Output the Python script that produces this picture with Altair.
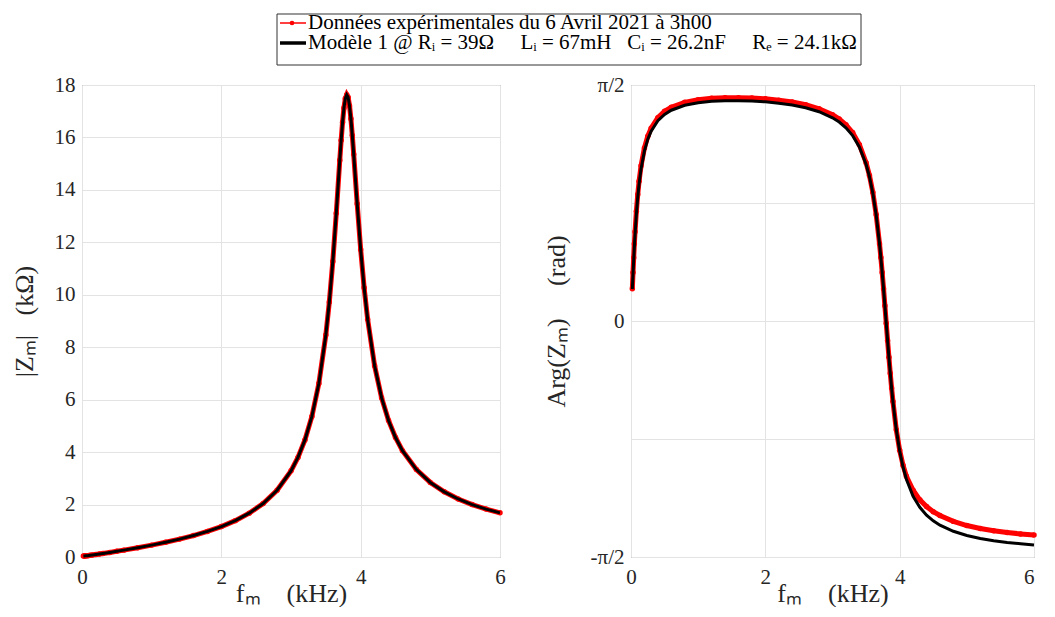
import altair as alt
import pandas as pd

# ---------------- data ----------------
F = [0.02, 0.03, 0.04, 0.05, 0.06, 0.08, 0.10, 0.12, 0.15, 0.20, 0.25, 0.30, 0.40, 0.50,
     0.60, 0.80, 1.00, 1.20, 1.40, 1.60, 1.80, 2.00, 2.20, 2.40, 2.60, 2.80, 3.00, 3.10,
     3.20, 3.30, 3.40, 3.50, 3.55, 3.60, 3.65, 3.70, 3.72, 3.74, 3.76, 3.78, 3.80, 3.82,
     3.84, 3.86, 3.88, 3.90, 3.95, 4.00, 4.05, 4.10, 4.20, 4.30, 4.40, 4.50, 4.60, 4.80,
     5.00, 5.20, 5.40, 5.60, 5.80, 6.00]

MAG_MODEL = [0.040, 0.041, 0.042, 0.044, 0.046, 0.051, 0.057, 0.064, 0.074, 0.093, 0.113,
             0.133, 0.174, 0.217, 0.262, 0.354, 0.453, 0.562, 0.682, 0.818, 0.975, 1.161,
             1.387, 1.671, 2.040, 2.546, 3.285, 3.798, 4.465, 5.361, 6.619, 8.467, 9.721,
             11.267, 13.109, 15.127, 15.895, 16.579, 17.127, 17.488, 17.627, 17.531, 17.213,
             16.713, 16.079, 15.361, 13.471, 11.730, 10.264, 9.066, 7.291, 6.076, 5.206,
             4.556, 4.056, 3.335, 2.843, 2.485, 2.213, 1.999, 1.827, 1.684]

PH_MODEL = [0.2122, 0.3125, 0.4065, 0.4936, 0.5733, 0.7103, 0.8214, 0.9103, 1.0139, 1.1322,
            1.2101, 1.2638, 1.3334, 1.3754, 1.4029, 1.4356, 1.4528, 1.4619, 1.4661, 1.4666,
            1.4641, 1.4586, 1.4500, 1.4374, 1.4192, 1.3928, 1.3524, 1.3240, 1.2859, 1.2339,
            1.1589, 1.0434, 0.9609, 0.8518, 0.7070, 0.5144, 0.4223, 0.3221, 0.2144, 0.1015,
            -0.0142, -0.1294, -0.2414, -0.3477, -0.4463, -0.5363, -0.7245, -0.8658, -0.9719,
            -1.0532, -1.1663, -1.2403, -1.2920, -1.3300, -1.3588, -1.3997, -1.4273, -1.4472,
            -1.4620, -1.4736, -1.4830, -1.4906]

MAG_DATA = [0.040, 0.041, 0.042, 0.044, 0.046, 0.051, 0.057, 0.064, 0.074, 0.093, 0.113,
            0.133, 0.174, 0.217, 0.262, 0.354, 0.453, 0.562, 0.682, 0.818, 0.975, 1.161,
            1.387, 1.671, 2.040, 2.546, 3.285, 3.798, 4.465, 5.361, 6.619, 8.467, 9.721,
            11.267, 13.109, 15.127, 15.895, 16.579, 17.127, 17.488, 17.627, 17.531, 17.213,
            16.713, 16.079, 15.361, 13.471, 11.730, 10.264, 9.066, 7.291, 6.076, 5.206,
            4.556, 4.056, 3.335, 2.843, 2.485, 2.213, 1.999, 1.827, 1.684]

PH_DATA = [0.2152, 0.3225, 0.4215, 0.5136, 0.5933, 0.7303, 0.8414, 0.9303, 1.0339, 1.1522,
           1.2301, 1.2838, 1.3534, 1.3954, 1.4229, 1.4556, 1.4728, 1.4819, 1.4861, 1.4866,
           1.4841, 1.4786, 1.4700, 1.4574, 1.4392, 1.4128, 1.3724, 1.3440, 1.3059, 1.2539,
           1.1739, 1.0534, 0.9689, 0.8568, 0.7090, 0.5144, 0.4223, 0.3221, 0.2144, 0.1015,
           -0.0142, -0.1294, -0.2414, -0.3477, -0.4463, -0.5363, -0.7245, -0.8608, -0.9599,
           -1.0332, -1.1263, -1.1903, -1.2350, -1.2690, -1.2948, -1.3337, -1.3613, -1.3812,
           -1.3960, -1.4076, -1.4170, -1.4246]

PI = 3.141592653589793
X_TICKS = [0, 2, 4, 6]
Y1_TICKS = [0, 2, 4, 6, 8, 10, 12, 14, 16, 18]
Y2_TICKS = [-PI / 2, -PI / 4, 0, PI / 4, PI / 2]

NB = "\u00a0"
LEG_LABELS = ["Données expérimentales du 6 Avril 2021 à 3h00",
              "Modèle 1 @ R\u1d62 = 39Ω" + NB * 5 + "L\u1d62 = 67mH" + NB * 3 +
              "C\u1d62 = 26.2nF" + NB * 5 + "R\u2091 = 24.1kΩ"]
X_TITLE = "f\u2098" + NB * 4 + "(kHz)"
Y1_TITLE = "|Z\u2098|" + NB * 3 + "(kΩ)"
Y2_TITLE = "Arg(Z\u2098)" + NB * 5 + "(rad)"

FONT = "Liberation Serif"
RED = "#ff0000"
W1, W2, H = 418, 403, 472
LEG_W, LEG_H = 779, 51      # legend strip aligned with the left plot's left edge
BOX_L, BOX_R = 195, 779     # legend frame inside that strip

df_model = pd.DataFrame({"f": F, "mag": MAG_MODEL, "ph": PH_MODEL})
df_data = pd.DataFrame({"f": F, "mag": MAG_DATA, "ph": PH_DATA})


def x_enc(w, flush_last):
    kw = {}
    if flush_last:
        kw["labelAlign"] = {"condition": {"test": "datum.value == 6", "value": "right"},
                            "value": "center"}
    return alt.X("f:Q", scale=alt.Scale(domain=[0, 6], nice=False),
                 axis=alt.Axis(values=X_TICKS, title=X_TITLE, format="d", labelPadding=9,
                               titleX=w / 2, titleY=44, titleBaseline="alphabetic", **kw))


def panel(col, y_scale, y_axis, w, flush_last):
    y = alt.Y(f"{col}:Q", scale=y_scale, axis=y_axis)
    x = x_enc(w, flush_last)
    red_line = alt.Chart(df_data).mark_line(color=RED, strokeWidth=5).encode(x=x, y=y)
    red_pts = alt.Chart(df_data).mark_circle(color=RED, size=30, opacity=1).encode(x=x, y=y)
    black = alt.Chart(df_model).mark_line(color="black", strokeWidth=3).encode(x=x, y=y)
    return alt.layer(red_line, red_pts, black).properties(width=w, height=H)


left = panel(
    "mag",
    alt.Scale(domain=[0, 18], nice=False),
    alt.Axis(values=Y1_TICKS, title=Y1_TITLE, labelPadding=7, titleX=-58, titleY=H / 2,
             titleBaseline="middle"),
    W1, False,
)
right = panel(
    "ph",
    alt.Scale(domain=[-PI / 2, PI / 2], nice=False),
    alt.Axis(values=Y2_TICKS, title=Y2_TITLE, labelPadding=7, titleX=-75, titleY=H / 2,
             titleBaseline="middle",
             labelExpr="datum.value > 1.5 ? 'π/2' : (datum.value < -1.5 ? '-π/2' : (abs(datum.value) < 0.01 ? '0' : ''))"),
    W2, True,
)

# ---------------- legend block ----------------
leg_df = pd.DataFrame({"label": LEG_LABELS, "row": [0, 1]})
ly = alt.Y("row:Q", scale=alt.Scale(domain=[-0.45, 2.1], reverse=True), axis=None)
lbase = alt.Chart(leg_df)
leg_box = lbase.transform_filter("datum.row == 0").mark_rect(
    fill="white", stroke="#333333", strokeWidth=1).encode(
    x=alt.value(BOX_L), x2=alt.value(BOX_R), y=alt.value(0), y2=alt.value(LEG_H))
leg_red = lbase.transform_filter("datum.row == 0").mark_rule(color=RED, strokeWidth=1.5).encode(
    y=ly, x=alt.value(BOX_L + 3), x2=alt.value(BOX_L + 29))
leg_dot = lbase.transform_filter("datum.row == 0").mark_circle(color=RED, size=22, opacity=1).encode(
    y=ly, x=alt.value(BOX_L + 15))
leg_blk = lbase.transform_filter("datum.row == 1").mark_rule(color="black", strokeWidth=3.5).encode(
    y=ly, x=alt.value(BOX_L + 3), x2=alt.value(BOX_L + 29))
leg_txt = lbase.mark_text(align="left", baseline="middle", font=FONT, fontSize=21,
                          color="black").encode(y=ly, x=alt.value(BOX_L + 31), text="label:N")
legend = alt.layer(leg_box, leg_red, leg_dot, leg_blk, leg_txt).properties(
    width=LEG_W, height=LEG_H, view=alt.ViewBackground(stroke=None))

chart = alt.vconcat(
    legend,
    alt.hconcat(left, right, spacing=31),
    spacing=7,
).properties(
    padding={"left": 2, "top": 4, "right": 0, "bottom": 0}
).configure_axis(
    labelFont=FONT, titleFont=FONT, labelFontSize=21, titleFontSize=26,
    labelColor="#262626", titleColor="#262626", titleFontWeight="normal",
    gridColor="#e3e3e3", gridWidth=1, domain=False, ticks=False, tickSize=0,
    labelOverlap=False, labelFlush=False,
).configure_view(stroke="#7f7f7f", strokeWidth=1)

chart.save("out.html", embed_options={"renderer": "svg", "actions": False})
